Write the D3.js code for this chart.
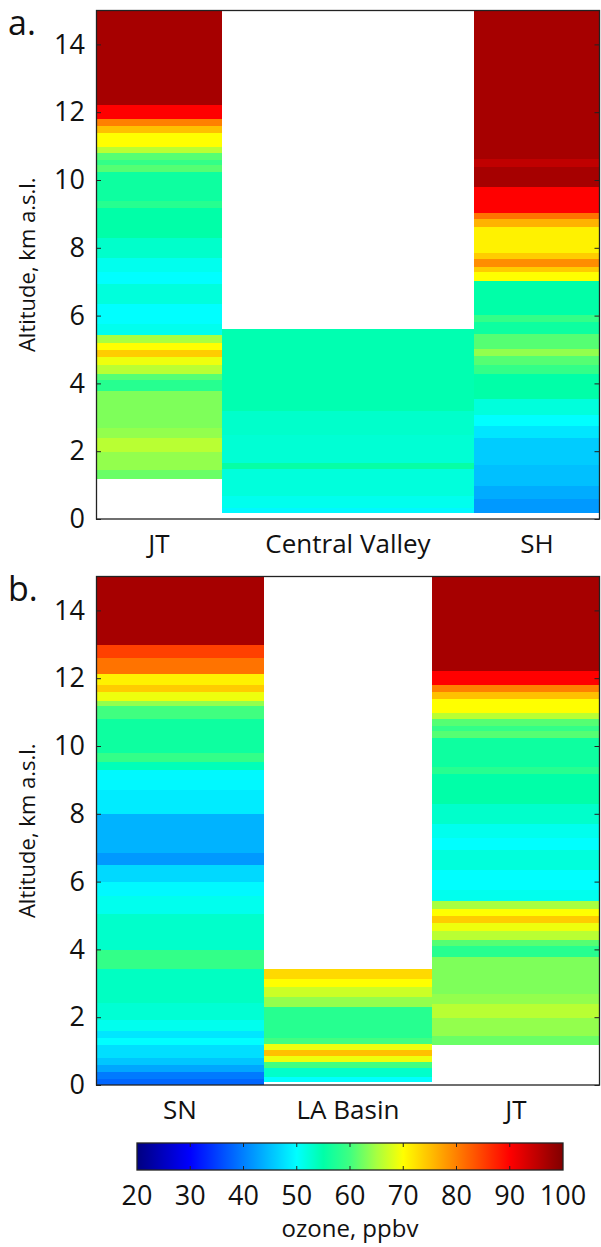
<!DOCTYPE html>
<html>
<head>
<meta charset="utf-8">
<script src="https://cdn.jsdelivr.net/npm/d3@7/dist/d3.min.js"></script>
<style>
  html, body { margin: 0; padding: 0; background: #fff; }
  svg { display: block; font-family: "Open Sans", "Noto Sans", sans-serif; }
</style>
</head>
<body>
<svg id="chart" width="601" height="1247"></svg>
<script>
// Ozone profiles: layer edges (km a.s.l.) and ozone mixing ratio (ppbv) per layer
const jtEdges = [1.2, 1.45, 2.0, 2.4, 2.7, 3.8, 4.1, 4.3, 4.55, 4.8, 5.0, 5.2, 5.45, 5.75, 6.35, 6.95, 7.3, 7.7, 8.3, 9.2, 9.4, 10.25, 10.45, 10.6, 10.8, 11.0, 11.4, 11.6, 11.8, 12.22, 15];
const jtOzone = [62, 64, 66, 64, 63, 58, 61, 66, 69, 74, 70, 65, 51, 50, 52, 50, 51, 53, 55, 58, 56, 61, 59, 61, 66, 70, 75, 80, 90, 97];

const cvEdges = [0.2, 0.35, 0.7, 1.5, 1.67, 2.5, 3.2, 5.6];
const cvOzone = [49.5, 51, 52, 55.5, 52.5, 53, 54.5];

const shEdges = [0.2, 0.6, 1.0, 1.6, 2.4, 2.75, 3.07, 3.56, 4.3, 4.55, 4.83, 5.04, 5.46, 5.83, 6.04, 7.04, 7.3, 7.46, 7.67, 7.85, 8.62, 8.86, 9.04, 9.82, 10.4, 10.62, 15];
const shOzone = [42, 43.5, 45, 46, 48, 50, 52, 55, 59, 61, 64, 61, 56, 59, 55, 70, 74, 79, 74, 71, 76, 81, 90, 97, 95, 97];

const snEdges = [0, 0.2, 0.4, 0.6, 0.8, 1.2, 1.4, 1.6, 1.92, 2.43, 3.42, 4.0, 5.05, 5.6, 6.0, 6.5, 6.85, 8.0, 8.7, 9.3, 9.55, 9.8, 10.8, 11.2, 11.35, 11.6, 11.8, 12.15, 12.6, 13.0, 15];
const snOzone = [38, 39.5, 43, 45.5, 47.5, 50, 48, 51, 52.5, 53.5, 59, 53, 51, 49.5, 47, 42, 44, 48.5, 49.5, 54, 59, 56, 60, 64, 69, 74, 71, 81, 85, 97];

const laEdges = [0.1, 0.25, 0.5, 0.7, 0.86, 1.05, 1.22, 1.4, 2.3, 2.6, 2.9, 3.15, 3.42];
const laOzone = [50, 53, 60, 69, 75, 69, 60, 58, 64, 67, 70, 73];

const panelLetters = ["a.", "b."];
const panelASites = ["JT", "Central Valley", "SH"];
const panelBSites = ["SN", "LA Basin", "JT"];
const altitudeTicks = [0, 2, 4, 6, 8, 10, 12, 14];
const ozoneTicks = [20, 30, 40, 50, 60, 70, 80, 90, 100];

// Jet-like colour map (20-100 ppbv) with a saturated green section
const cmapValues = [20, 30, 40, 50, 55, 60, 65, 70, 80, 90, 100];
const cmapColors = ["#000080", "#0000ff", "#0080ff", "#00ffff", "#00ffa8", "#40ff80",
                    "#a8ff40", "#ffff00", "#ff8000", "#ff0000", "#800000"];
const color = d3.scaleLinear().domain(cmapValues).range(cmapColors)
  .interpolate(d3.interpolateRgb).clamp(true);

const svg = d3.select("#chart");
const fontTick = 27;
const fontCat = 26;

const panels = [
  { letter: panelLetters[0], top: 10.5, bottom: 519,
    columns: [
      { name: panelASites[0], span: 1, edges: jtEdges, ozone: jtOzone },
      { name: panelASites[1], span: 2, edges: cvEdges, ozone: cvOzone },
      { name: panelASites[2], span: 1, edges: shEdges, ozone: shOzone }
    ] },
  { letter: panelLetters[1], top: 576.5, bottom: 1085,
    columns: [
      { name: panelBSites[0], span: 1, edges: snEdges, ozone: snOzone },
      { name: panelBSites[1], span: 1, edges: laEdges, ozone: laOzone },
      { name: panelBSites[2], span: 1, edges: jtEdges, ozone: jtOzone }
    ] }
];

const left = 96, right = 600;

panels.forEach(p => {
  const g = svg.append("g");
  const y = d3.scaleLinear().domain([0, 15]).range([p.bottom, p.top]);
  const total = d3.sum(p.columns, c => c.span);
  const x = d3.scaleLinear().domain([0, total]).range([left, right]);

  let start = 0;
  p.columns.forEach(col => {
    col.x0 = start; col.x1 = start + col.span; start = col.x1;
    const layers = col.ozone.map((v, i) => ({ lo: col.edges[i], hi: col.edges[i + 1], v }));
    g.append("g").selectAll("rect").data(layers).join("rect")
      .attr("x", x(col.x0))
      .attr("width", x(col.x1) - x(col.x0))
      .attr("y", d => y(d.hi))
      .attr("height", d => y(d.lo) - y(d.hi) + 0.4)
      .attr("fill", d => color(d.v))
      .attr("shape-rendering", "crispEdges");

    g.append("text")
      .attr("x", x((col.x0 + col.x1) / 2))
      .attr("y", p.bottom + 34)
      .attr("text-anchor", "middle")
      .attr("font-size", fontCat)
      .attr("fill", "#111")
      .text(col.name);
  });

  // left axis with labels, ticks pointing inward
  const yAxis = d3.axisLeft(y).tickValues(altitudeTicks).tickSize(-5).tickPadding(11);
  const ga = g.append("g").attr("transform", `translate(${left},0)`).call(yAxis);
  ga.attr("font-size", fontTick).attr("font-family", null);
  ga.select(".domain").remove();
  ga.selectAll("text").attr("fill", "#111");
  ga.selectAll("line").attr("stroke", "#222");

  // right axis, ticks only
  const yAxisR = d3.axisRight(y).tickValues(altitudeTicks).tickSize(-5).tickFormat("");
  const gr = g.append("g").attr("transform", `translate(${right - 0.5},0)`).call(yAxisR);
  gr.select(".domain").remove();
  gr.selectAll("line").attr("stroke", "#222");

  // frame
  g.append("rect")
    .attr("x", left + 0.5).attr("y", p.top)
    .attr("width", right - left - 1).attr("height", p.bottom - p.top)
    .attr("fill", "none").attr("stroke", "#222").attr("stroke-width", 1.3);

  // y label
  g.append("text")
    .attr("transform", `translate(26,${(p.top + p.bottom) / 2}) rotate(-90)`)
    .attr("text-anchor", "middle")
    .attr("dominant-baseline", "central")
    .attr("font-size", 22)
    .attr("fill", "#111")
    .text("Altitude, km a.s.l.");

  // panel letter
  g.append("text")
    .attr("x", 8).attr("y", p.top + 24)
    .attr("font-size", 34)
    .attr("fill", "#111")
    .text(p.letter);
});

// colour bar
const cb = { x0: 137, x1: 563, y0: 1143, y1: 1170 };
const cx = d3.scaleLinear().domain([20, 100]).range([cb.x0, cb.x1]);
const defs = svg.append("defs");
const grad = defs.append("linearGradient").attr("id", "jetGrad")
  .attr("x1", "0%").attr("x2", "100%").attr("y1", "0%").attr("y2", "0%");
grad.selectAll("stop").data(d3.range(0, 1.0001, 0.0125)).join("stop")
  .attr("offset", d => `${d * 100}%`)
  .attr("stop-color", d => color(20 + 80 * d));

const gcb = svg.append("g");
gcb.append("rect")
  .attr("x", cb.x0).attr("y", cb.y0)
  .attr("width", cb.x1 - cb.x0).attr("height", cb.y1 - cb.y0)
  .attr("fill", "url(#jetGrad)");

const inner = ozoneTicks.slice(1, -1);
gcb.append("g").selectAll("line.t").data(inner).join("line")
  .attr("x1", d => cx(d)).attr("x2", d => cx(d))
  .attr("y1", cb.y0).attr("y2", cb.y0 + 4)
  .attr("stroke", "#222");
gcb.append("g").selectAll("line.b").data(inner).join("line")
  .attr("x1", d => cx(d)).attr("x2", d => cx(d))
  .attr("y1", cb.y1 - 4).attr("y2", cb.y1)
  .attr("stroke", "#222");
gcb.append("rect")
  .attr("x", cb.x0).attr("y", cb.y0)
  .attr("width", cb.x1 - cb.x0).attr("height", cb.y1 - cb.y0)
  .attr("fill", "none").attr("stroke", "#222").attr("stroke-width", 1.3);

gcb.append("g").selectAll("text").data(ozoneTicks).join("text")
  .attr("x", d => cx(d)).attr("y", 1205)
  .attr("text-anchor", "middle")
  .attr("font-size", fontTick)
  .attr("fill", "#111")
  .text(d => d);

gcb.append("text")
  .attr("x", (cb.x0 + cb.x1) / 2).attr("y", 1237)
  .attr("text-anchor", "middle")
  .attr("font-size", 24)
  .attr("fill", "#111")
  .text("ozone, ppbv");
</script>
</body>
</html>
